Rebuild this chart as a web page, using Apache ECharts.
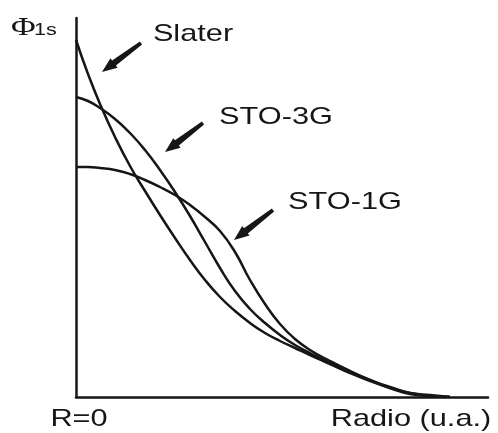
<!DOCTYPE html>
<html>
<head>
<meta charset="utf-8">
<script src="https://cdn.jsdelivr.net/npm/echarts@6/dist/echarts.min.js"></script>
<style>
  html, body { margin: 0; padding: 0; background: #fff; }
  #chart { width: 498px; height: 433px; }
</style>
</head>
<body>
<div id="chart"></div>
<script>
// Radius samples (arbitrary units) and the three 1s radial functions
const radius = [0, 0.12, 0.24, 0.39, 0.54, 0.69, 0.84, 0.99, 1.14, 1.29, 1.44, 1.59, 1.74, 1.89, 2.04, 2.19, 2.34, 2.54, 2.74, 2.94, 3.14, 3.34, 3.54, 3.74];
const slater = [3.57, 3.23, 2.93, 2.60, 2.31, 2.06, 1.82, 1.59, 1.37, 1.17, 1.00, 0.86, 0.74, 0.64, 0.56, 0.49, 0.42, 0.33, 0.24, 0.16, 0.09, 0.03, 0.01, 0.00];
const sto3g  = [3.00, 2.96, 2.89, 2.78, 2.64, 2.47, 2.27, 2.05, 1.81, 1.55, 1.29, 1.06, 0.88, 0.74, 0.62, 0.52, 0.44, 0.34, 0.25, 0.17, 0.10, 0.04, 0.01, 0.00];
const sto1g  = [2.30, 2.30, 2.29, 2.27, 2.23, 2.17, 2.10, 2.02, 1.92, 1.80, 1.66, 1.45, 1.17, 0.93, 0.73, 0.58, 0.47, 0.36, 0.26, 0.17, 0.09, 0.04, 0.02, 0.00];
const seriesNames = ['Slater', 'STO-3G', 'STO-1G'];
const xAxisLabelStart = 'R=0';
const xAxisTitle = 'Radio (u.a.)';

const ink = '#161616';
const chart = echarts.init(document.getElementById('chart'), null, { renderer: 'canvas' });

function pairs(ys) { return radius.map((r, i) => [r, ys[i]]); }

function arrow(tail, head) {
  const dx = head[0] - tail[0], dy = head[1] - tail[1];
  const len = Math.hypot(dx, dy);
  const ux = dx / len, uy = dy / len;
  const nx = -uy, ny = ux;
  const headLen = 15, headW = 6, shaftTail = 1.8, shaftHead = 3.2;
  const bx = head[0] - ux * headLen, by = head[1] - uy * headLen;
  return {
    type: 'polygon',
    shape: { points: [
      [tail[0] + nx * shaftTail, tail[1] + ny * shaftTail],
      [bx + nx * shaftHead, by + ny * shaftHead],
      [bx + nx * headW, by + ny * headW],
      head,
      [bx - nx * headW, by - ny * headW],
      [bx - nx * shaftHead, by - ny * shaftHead],
      [tail[0] - nx * shaftTail, tail[1] - ny * shaftTail]
    ] },
    style: { fill: ink }
  };
}

function label(text, x, y, opts) {
  opts = opts || {};
  return {
    type: 'text', x: x, y: y, scaleX: opts.scaleX || 1.28, scaleY: 1,
    style: {
      text: text, x: 0, y: 0,
      font: (opts.size || 24) + 'px ' + (opts.family || '"Liberation Sans", Arial, sans-serif'),
      fill: ink, align: opts.align || 'center', verticalAlign: 'middle'
    }
  };
}

const lineStyle = { color: ink, width: 2.5 };
const curve = { type: 'line', smooth: 0.5, symbol: 'none', lineStyle: lineStyle };

chart.setOption({
  animation: false,
  backgroundColor: '#fff',
  grid: { left: 76, right: 10, top: 18, bottom: 36 },
  xAxis: {
    type: 'value', min: 0, max: 4.12,
    axisLine: { show: true, lineStyle: { color: ink, width: 2.5 } },
    axisTick: { show: false }, axisLabel: { show: false }, splitLine: { show: false }
  },
  yAxis: {
    type: 'value', min: 0, max: 3.79,
    axisLine: { show: true, lineStyle: { color: ink, width: 2.5 } },
    axisTick: { show: false }, axisLabel: { show: false }, splitLine: { show: false }
  },
  series: [
    Object.assign({ name: seriesNames[0], data: pairs(slater) }, curve),
    Object.assign({ name: seriesNames[1], data: pairs(sto3g) }, curve),
    Object.assign({ name: seriesNames[2], data: pairs(sto1g) }, curve)
  ],
  graphic: [
    label(seriesNames[0], 193, 34),
    label(seriesNames[1], 276, 117),
    label(seriesNames[2], 345, 202),
    label(xAxisLabelStart, 79, 419),
    label(xAxisTitle, 411, 419),
    arrow([141, 43], [102, 72]),
    arrow([203, 123], [165, 152]),
    arrow([273, 210], [234, 240]),
    label('Φ', 11, 28, { size: 25, scaleX: 1.35, align: 'left', family: '"Liberation Serif", "Times New Roman", serif' }),
    label('1s', 34, 31, { size: 16, scaleX: 1.35, align: 'left' })
  ]
});
</script>
</body>
</html>
